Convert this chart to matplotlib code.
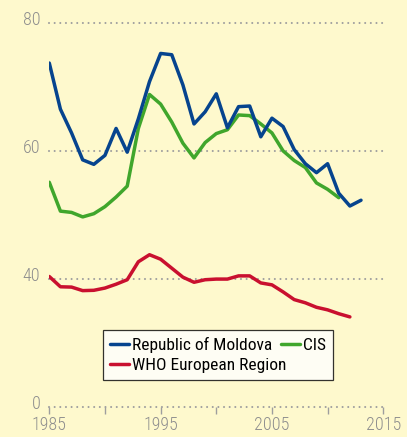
import matplotlib
matplotlib.use("Agg")
import matplotlib.pyplot as plt
import matplotlib.transforms as mtransforms
import numpy as np

plt.rcParams["font.family"] = ["Roboto Condensed", "DejaVu Sans"]

# ── Data ──────────────────────────────────────────────────────────────────────
moldova_years = list(range(1985, 2014))
moldova = [73.7, 66.5, 62.8, 58.6, 57.9, 59.3, 63.5, 59.8, 65.0, 70.8,
           75.2, 75.0, 70.3, 64.2, 66.1, 68.9, 63.6, 66.9, 67.0, 62.2,
           65.1, 63.8, 60.2, 58.0, 56.6, 58.0, 53.4, 51.4, 52.3]

cis_years = list(range(1985, 2012))
cis = [55.1, 50.6, 50.4, 49.7, 50.2, 51.3, 52.8, 54.5, 63.5, 68.8,
       67.3, 64.5, 61.2, 58.9, 61.3, 62.7, 63.3, 65.6, 65.5, 64.2,
       62.8, 60.0, 58.5, 57.4, 55.0, 54.0, 52.7]

who_years = list(range(1985, 2013))
who_eur = [40.4, 38.8, 38.75, 38.2, 38.25, 38.6, 39.2, 39.9, 42.7, 43.8,
           43.1, 41.7, 40.3, 39.5, 39.9, 40.0, 40.0, 40.5, 40.5, 39.4,
           39.1, 38.0, 36.8, 36.3, 35.6, 35.2, 34.6, 34.1]

y_ticks = [0, 40, 60, 80]
x_ticks = list(range(1985, 2016, 5))
x_labels = ["1985", "", "1995", "", "2005", "", "2015"]

BG = "#FEF9CD"
GRID = "#9E9E9E"
TICK_TEXT = "#8E8E8E"


# broken y axis: the 0-30 band is squeezed so 0 sits where 20 would be
def _fwd(v):
    v = np.asarray(v, dtype=float)
    return np.where(v >= 30, v, 20 + v / 3)


def _inv(p):
    p = np.asarray(p, dtype=float)
    return np.where(p >= 30, p, (p - 20) * 3)


fig = plt.figure(figsize=(4.07, 4.37), dpi=100, facecolor=BG)
ax = fig.add_axes([0.1211, 0.0680, 0.8206, 0.8801], facecolor=BG)
ax.set_yscale("function", functions=(_fwd, _inv))
ax.set_xlim(1985, 2015)
ax.set_ylim(0, 80)

# dotted reference lines (round caps on near-zero dashes give dots)
for y in y_ticks:
    ax.axhline(y, color=GRID, linewidth=1.5, linestyle=(0, (0.01, 2.7)),
               dash_capstyle="round", clip_on=False, zorder=1)

lw = 2.5
l_cis, = ax.plot(cis_years, cis, color="#40A62C", linewidth=lw,
                 solid_joinstyle="round", solid_capstyle="round", zorder=3,
                 label="CIS")
l_who, = ax.plot(who_years, who_eur, color="#C9102F", linewidth=lw,
                 solid_joinstyle="round", solid_capstyle="round", zorder=3,
                 label="WHO European Region")
l_mda, = ax.plot(moldova_years, moldova, color="#06448E", linewidth=lw,
                 solid_joinstyle="round", solid_capstyle="round", zorder=4,
                 label="Republic of Moldova")

for side in ["top", "right", "bottom", "left"]:
    ax.spines[side].set_visible(False)

ax.set_yticks(y_ticks)
ax.set_yticklabels([str(v) for v in y_ticks], fontweight="light")
ax.tick_params(axis="y", length=0, pad=6.5, labelsize=13, labelcolor=TICK_TEXT)
shift = mtransforms.ScaledTranslation(0, 3.6 / 72, fig.dpi_scale_trans)
for lab in ax.get_yticklabels():
    lab.set_transform(lab.get_transform() + shift)

ax.set_xticks(x_ticks)
ax.set_xticklabels(x_labels, fontweight="light")
ax.tick_params(axis="x", length=5, width=1, color=GRID, pad=1,
               labelsize=13, labelcolor=TICK_TEXT)

leg = ax.legend(handles=[l_mda, l_who, l_cis], ncol=2, loc="upper left",
                bbox_to_anchor=(102.7 / 407, 1 - 330 / 437),
                bbox_transform=fig.transFigure,
                fontsize=12.5, frameon=True, fancybox=False,
                handlelength=1.1, handletextpad=0.2, columnspacing=-0.35,
                labelspacing=0.3, borderpad=0.4, borderaxespad=0)
leg.get_frame().set_edgecolor("black")
leg.get_frame().set_linewidth(0.9)
leg.get_frame().set_facecolor("white")
leg.set_zorder(5)

fig.savefig("out.png", dpi=100, facecolor=BG)
plt.close(fig)
